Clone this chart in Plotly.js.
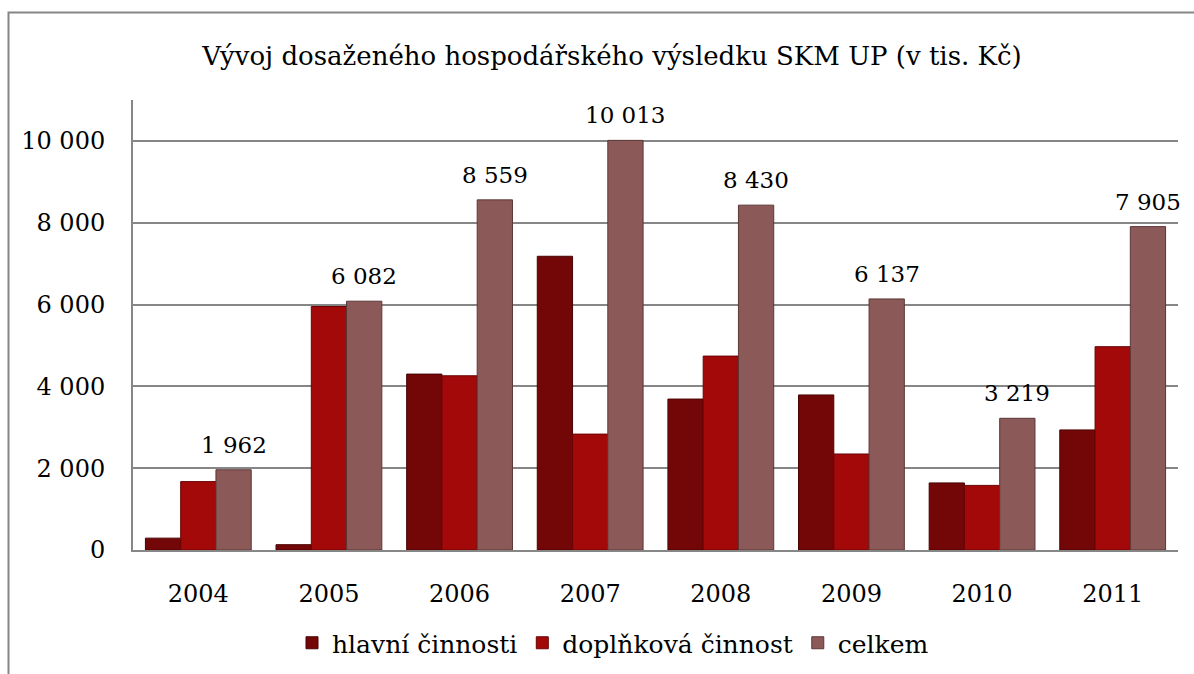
<!DOCTYPE html>
<html>
<head>
<meta charset="utf-8">
<script src="https://cdn.plot.ly/plotly-3.0.1.min.js"></script>
<style>
html,body{margin:0;padding:0;background:#fff;}
#chart{width:1194px;height:674px;}
</style>
</head>
<body>
<div id="chart"></div>
<script>
// Data (v tis. Kč)
var years = ['2004','2005','2006','2007','2008','2009','2010','2011'];
var hlavni = [290, 130, 4300, 7180, 3690, 3790, 1640, 2935];
var doplnkova = [1672, 5952, 4259, 2833, 4740, 2347, 1579, 4970];
var celkem = [1962, 6082, 8559, 10013, 8430, 6137, 3219, 7905];
var seriesNames = ['hlavní činnosti', 'doplňková činnost', 'celkem'];
var yTicks = [0, 2000, 4000, 6000, 8000, 10000];

var FONT = 'DejaVu Serif, Liberation Serif, serif';
var W = 1194, H = 674;
var M = {l: 133, r: 16, t: 100, b: 124};
var bargap = 0.19;

function fmt(v){ return String(v).replace(/\B(?=(\d{3})+(?!\d))/g, ' '); }

var traces = [
  {type:'bar', name:seriesNames[0], x:years, y:hlavni,
   marker:{color:'#730707', line:{color:'#4a0303', width:1}}},
  {type:'bar', name:seriesNames[1], x:years, y:doplnkova,
   marker:{color:'#a30909', line:{color:'#6a0404', width:1}}},
  {type:'bar', name:seriesNames[2], x:years, y:celkem,
   marker:{color:'#8c5959', line:{color:'#5c3636', width:1}}}
];

// value labels above "celkem" bars
var plotW = W - M.l - M.r;
var catW = plotW / years.length;
var barW = catW * (1 - bargap) / 3;
var annotations = years.map(function(yr, i){
  return {x: i, y: celkem[i], xref:'x', yref:'y', text: fmt(celkem[i]),
          showarrow:false, xshift: barW, yshift: 10, yanchor:'bottom',
          font:{family:FONT, size:23, color:'#000'}};
});

var plotH = H - M.t - M.b;
var shapes = [{
  type:'rect', xref:'paper', yref:'paper',
  x0: (8.5 - M.l)/plotW, x1: (W + 20 - M.l)/plotW,
  y0: (H - M.b - (H + 20))/plotH, y1: (H - M.b - 12.5)/plotH,
  line:{color:'#858585', width:2}, fillcolor:'rgba(0,0,0,0)', layer:'below'
}];

var layout = {
  width: W, height: H,
  margin: M,
  paper_bgcolor:'#fff', plot_bgcolor:'#fff',
  barmode:'group', bargap: bargap, bargroupgap: 0,
  title:{text:'Vývoj dosaženého hospodářského výsledku SKM UP (v tis. Kč)',
         font:{family:FONT, size:26, color:'#000'},
         x: 612/W, xanchor:'center', y: 1 - 56/H, yanchor:'middle'},
  xaxis:{type:'category', categoryorder:'array', categoryarray: years,
         range:[-0.5, years.length - 0.5], autorange:false,
         showgrid:false, showline:true, linecolor:'#868686', linewidth:2,
         ticks:'', ticklabelstandoff: 21,
         tickfont:{family:FONT, size:24, color:'#000'}, fixedrange:true},
  yaxis:{range:[0, 11000], autorange:false, tickvals:yTicks, ticktext:yTicks.map(fmt),
         showgrid:true, gridcolor:'#868686', gridwidth:2,
         zeroline:false, showline:true, linecolor:'#868686', linewidth:2,
         ticks:'', ticklabelstandoff: 21,
         tickfont:{family:FONT, size:24, color:'#000'}, fixedrange:true},
  showlegend:true,
  legend:{orientation:'h', x:613/W, xanchor:'center', xref:'container',
          y: 1 - 643/H, yref:'container', yanchor:'middle',
          bgcolor:'rgba(0,0,0,0)',
          font:{family:FONT, size:25, color:'#000'}, itemwidth:30,
          traceorder:'normal'},
  annotations: annotations,
  shapes: shapes
};

Plotly.newPlot('chart', traces, layout, {staticPlot:true, displayModeBar:false});
</script>
</body>
</html>
